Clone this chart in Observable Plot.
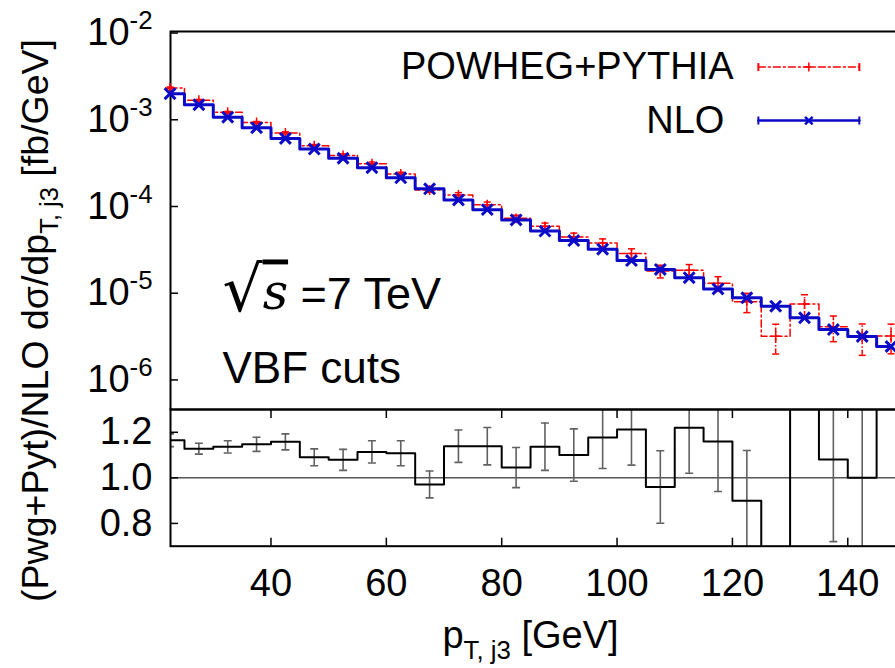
<!DOCTYPE html>
<html><head><meta charset="utf-8">
<script src="https://cdn.jsdelivr.net/npm/d3@7"></script>
<script src="https://cdn.jsdelivr.net/npm/@observablehq/plot@0.6"></script>
<style>
html,body{margin:0;padding:0;background:#fff;overflow:hidden;}
#chart{position:relative;width:895px;height:668px;font-family:"Liberation Sans",Arial,sans-serif;}
#chart svg{position:absolute;left:0;}
</style></head><body><div id="chart"></div>
<script>
// ---- data ----
const binCenters = [22.5, 27.5, 32.5, 37.5, 42.5, 47.5, 52.5, 57.5, 62.5, 67.5, 72.5, 77.5, 82.5,
  87.5, 92.5, 97.5, 102.5, 107.5, 112.5, 117.5, 122.5, 127.5, 132.5, 137.5, 142.5, 147.5];
const nloValues = [2.0e-3, 1.49e-3, 1.07e-3, 8.1e-4, 6.1e-4, 4.6e-4, 3.6e-4, 2.8e-4, 2.14e-4, 1.6e-4,
  1.19e-4, 9.2e-5, 7.0e-5, 5.2e-5, 4.05e-5, 3.22e-5, 2.38e-5, 1.88e-5, 1.51e-5, 1.12e-5,
  8.85e-6, 7.08e-6, 5.2e-6, 3.81e-6, 3.17e-6, 2.43e-6];
const pwgValues = [2.33e-3, 1.68e-3, 1.22e-3, 9.3e-4, 7.06e-4, 5.01e-4, 3.88e-4, 3.12e-4, 2.37e-4, 1.55e-4,
  1.36e-4, 1.05e-4, 7.3e-5, 5.9e-5, 4.46e-5, 3.79e-5, 2.88e-5, 1.80e-5, 1.84e-5, 1.30e-5,
  7.97e-6, 3.19e-6, 7.5e-6, 4.11e-6, 3.17e-6, 3.2e-6];
const pwgErrors = [5.6e-5, 3.6e-5, 2.9e-5, 2.5e-5, 2.1e-5, 1.7e-5, 1.66e-5, 1.37e-5, 1.18e-5, 9.4e-6,
  8.4e-6, 7.5e-6, 6.2e-6, 5.4e-6, 4.7e-6, 4.4e-6, 3.7e-6, 3.0e-6, 3.0e-6, 2.5e-6,
  2.0e-6, 1.2e-6, 2.1e-6, 1.35e-6, 1.25e-6, 1.2e-6];
const ratioValues = [1.165, 1.128, 1.136, 1.147, 1.158, 1.09, 1.079, 1.114, 1.108, 0.971,
  1.139, 1.139, 1.045, 1.137, 1.10, 1.177, 1.212, 0.96, 1.22, 1.16,
  0.90, 0.45, 1.43, 1.08, 1.0, 1.32];
const ratioErrors = [0.028, 0.024, 0.027, 0.031, 0.035, 0.037, 0.046, 0.049, 0.055, 0.059,
  0.071, 0.082, 0.088, 0.104, 0.115, 0.136, 0.156, 0.159, 0.2, 0.22,
  0.22, 0.2, 0.1, 0.36, 0.4, 0.01];
const seriesNames = ["POWHEG+PYTHIA", "NLO"];
const xTicks = [40, 60, 80, 100, 120, 140];
const yTicks = [1e-6, 1e-5, 1e-4, 1e-3, 1e-2];
const ratioTicks = [0.8, 1.0, 1.2];

// ---- table built from the arrays ----
const bins = binCenters.map((x, i) => ({
  x, nlo: nloValues[i], pwg: pwgValues[i], err: pwgErrors[i], ratio: ratioValues[i], rerr: ratioErrors[i]
}));

const RED = "#ff0000", BLUE = "#0a0ac8", GRAY = "#606060";
const DASH = "7,3,2,3";
const FONT = "Liberation Sans, Arial, sans-serif";
const xDomain = [22.58, 149.14];
const hcap = {draw(ctx, size) { const r = Math.sqrt(size / Math.PI); ctx.moveTo(-r, 0); ctx.lineTo(r, 0); }};
const vcap = {draw(ctx, size) { const r = Math.sqrt(size / Math.PI); ctx.moveTo(0, -r); ctx.lineTo(0, r); }};
const style = {background: "transparent", overflow: "visible", fontFamily: FONT, color: "black"};

// legend layout (data units of the upper panel)
const legend = [
  {name: seriesNames[0], y: 4.05e-3, tx: 120.2, color: RED, dash: DASH, sym: "plus", sw: 1.5},
  {name: seriesNames[1], y: 9.8e-4, tx: 118.6, color: BLUE, dash: null, sym: "times", sw: 2.5}
];
const legX1 = 124.5, legX2 = 142.0, legXm = 133.25;

const upperMarks = [
  Plot.frame({stroke: "black", strokeWidth: 2}),
  Plot.axisY({ticks: yTicks, tickSize: -8, tickPadding: 26, strokeWidth: 1.5,
    tickFormat: d => `10^{${Math.round(Math.log10(d))}}`, fontSize: 38, label: null}),
  // POWHEG+PYTHIA
  Plot.line(bins, {x: "x", y: "pwg", curve: "step", stroke: RED, strokeWidth: 1.5, strokeDasharray: DASH}),
  Plot.ruleX(bins, {x: "x", y1: d => d.pwg - d.err, y2: d => d.pwg + d.err, stroke: RED, strokeWidth: 1.5, strokeDasharray: "5,2,1.5,2"}),
  Plot.dot(bins, {x: "x", y: d => d.pwg + d.err, symbol: hcap, r: 3.5, stroke: RED, fill: "none", strokeWidth: 1.5}),
  Plot.dot(bins, {x: "x", y: d => d.pwg - d.err, symbol: hcap, r: 3.5, stroke: RED, fill: "none", strokeWidth: 1.5}),
  Plot.dot(bins, {x: "x", y: "pwg", symbol: "plus", r: 3.3, stroke: RED, fill: "none", strokeWidth: 1.5}),
  // NLO
  Plot.line(bins, {x: "x", y: "nlo", curve: "step", stroke: BLUE, strokeWidth: 3}),
  Plot.dot(bins, {x: "x", y: "nlo", symbol: "times", r: 5, stroke: BLUE, fill: "none", strokeWidth: 3}),
  // legend
  Plot.text(legend, {x: "tx", y: "y", text: "name", textAnchor: "end", fontSize: 38}),
  ...legend.map(l => Plot.line([{x: legX1, y: l.y}, {x: legX2, y: l.y}], {x: "x", y: "y", stroke: l.color, strokeWidth: l.sw, strokeDasharray: l.dash})),
  ...legend.map(l => Plot.dot([{x: legX1, y: l.y}, {x: legX2, y: l.y}], {x: "x", y: "y", symbol: vcap, r: 4, stroke: l.color, fill: "none", strokeWidth: 2})),
  ...legend.map(l => Plot.dot([{x: legXm, y: l.y}], {x: "x", y: "y", symbol: l.sym, r: l.sym === "plus" ? 3 : 3.5, stroke: l.color, fill: "none", strokeWidth: l.sw})),
  // annotations
  Plot.text(["√s =7 TeV"], {text: d => d, frameAnchor: "top-left", dx: 52, dy: 246, textAnchor: "start", fontSize: 45}),
  Plot.text(["VBF cuts"], {text: d => d, frameAnchor: "top-left", dx: 52, dy: 320, textAnchor: "start", fontSize: 44}),
  Plot.text(["(Pwg+Pyt)/NLO dσ/dp_{T, j3} [fb/GeV]"], {text: d => d, frameAnchor: "top-left", dx: -135, dy: 289,
    rotate: -90, textAnchor: "middle", lineAnchor: "middle", fontSize: 37.5})
];

const upper = Plot.plot({
  width: 895, height: 668,
  marginLeft: 170, marginRight: -5, marginTop: 31, marginBottom: 259,
  x: {domain: xDomain, axis: null},
  y: {type: "log", domain: [Math.pow(10, -6.341), Math.pow(10, -1.982)], axis: null},
  style,
  marks: upperMarks
});

const lower = Plot.plot({
  width: 895, height: 268,
  marginLeft: 170, marginRight: -5, marginTop: 9, marginBottom: 122.3,
  x: {domain: xDomain, axis: null},
  y: {domain: [0.7, 1.3], axis: null},
  style,
  marks: [
    Plot.ruleY([1], {stroke: "black", strokeWidth: 1}),
    Plot.ruleX(bins, {x: "x", y1: d => d.ratio - d.rerr, y2: d => d.ratio + d.rerr, stroke: GRAY, strokeWidth: 1.6, clip: true}),
    Plot.dot(bins, {x: "x", y: d => d.ratio + d.rerr, symbol: hcap, r: 4, stroke: GRAY, fill: "none", strokeWidth: 1.6, clip: true}),
    Plot.dot(bins, {x: "x", y: d => d.ratio - d.rerr, symbol: hcap, r: 4, stroke: GRAY, fill: "none", strokeWidth: 1.6, clip: true}),
    Plot.line(bins, {x: "x", y: "ratio", curve: "step", stroke: "black", strokeWidth: 2, clip: true}),
    Plot.frame({stroke: "black", strokeWidth: 2}),
    Plot.axisY({ticks: ratioTicks, tickSize: -8, tickPadding: 26, strokeWidth: 1.5, tickFormat: d => d.toFixed(1), fontSize: 38, label: null}),
    Plot.axisX({anchor: "bottom", ticks: xTicks, tickSize: -8, tickPadding: 45.6, strokeWidth: 1.5, lineAnchor: "middle", fontSize: 38, label: null}),
    Plot.axisX({anchor: "top", ticks: xTicks, tickSize: -8, strokeWidth: 1.5, tickFormat: () => "", label: null}),
    Plot.text(["p_{T, j3} [GeV]"], {text: d => d, frameAnchor: "bottom", dx: -5, dy: 90, lineAnchor: "middle", fontSize: 38})
  ]
});

const chart = document.getElementById("chart");
lower.style.top = "400px";
upper.style.top = "0px";
chart.appendChild(lower);
chart.appendChild(upper);

// rich text: sub/superscripts and the sqrt(s) label
const NS = "http://www.w3.org/2000/svg";
function richify(svg) {
  svg.querySelectorAll("text").forEach(el => {
    const s = el.textContent;
    const isSqrt = s.startsWith("√");
    if (!/[_^]\{/.test(s) && !isSqrt) return;
    const fs = parseFloat(getComputedStyle(el).fontSize);
    while (el.firstChild) el.removeChild(el.firstChild);
    if (isSqrt) {
      const a = document.createElementNS(NS, "tspan");
      a.textContent = "√"; a.setAttribute("font-size", fs * 1.4); a.setAttribute("font-family", "DejaVu Sans");
      a.setAttribute("dy", 0.04 * fs);
      const b = document.createElementNS(NS, "tspan");
      b.textContent = "s"; b.setAttribute("font-style", "italic"); b.setAttribute("font-family", "DejaVu Serif");
      b.setAttribute("font-size", fs * 1.1); b.setAttribute("dy", -0.04 * fs);
      b.setAttribute("text-decoration", "overline"); b.style.textDecoration = "overline";
      const c = document.createElementNS(NS, "tspan");
      c.textContent = s.slice(2);
      el.append(a, b, c);
      return;
    }
    const re = /([_^])\{([^}]*)\}/g; let last = 0, m; const segs = [];
    while ((m = re.exec(s))) {
      if (m.index > last) segs.push({t: s.slice(last, m.index), k: ""});
      segs.push({t: m[2], k: m[1]}); last = re.lastIndex;
    }
    if (last < s.length) segs.push({t: s.slice(last), k: ""});
    let shift = 0;
    segs.forEach(g => {
      const ts = document.createElementNS(NS, "tspan");
      const target = g.k === "_" ? 0.28 * fs : g.k === "^" ? -0.42 * fs : 0;
      if (target !== shift) ts.setAttribute("dy", target - shift);
      shift = target;
      if (g.k) ts.setAttribute("font-size", 0.68 * fs);
      ts.textContent = g.t; el.appendChild(ts);
    });
  });
}
richify(upper); richify(lower);
</script></body></html>
